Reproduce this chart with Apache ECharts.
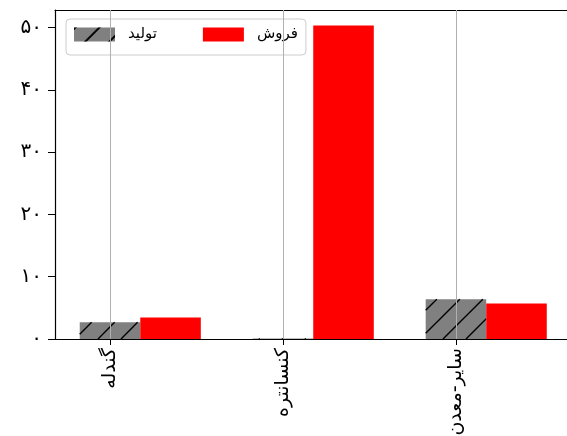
<!DOCTYPE html>
<html>
<head>
<meta charset="utf-8">
<script src="https://cdn.jsdelivr.net/npm/echarts@6/dist/echarts.min.js"></script>
<style>html,body{margin:0;padding:0;background:#fff}#c{width:567px;height:436px}</style>
</head>
<body>
<div id="c"></div>
<script>
// ---- data ----
const categories = ['گندله', 'کنسانتره', 'سایر-معدن'];
const production = [2.67, 0.1, 6.39];   // تولید
const sales = [3.47, 50.3, 5.7];        // فروش
const yTicks = [0, 10, 20, 30, 40, 50];
const seriesNames = ['تولید', 'فروش'];

const BAR_W = 0.35;
const HATCH = 23;
const faDigits = '۰۱۲۳۴۵۶۷۸۹';
const toFa = s => String(s).replace(/[0-9]/g, d => faDigits[+d]);
const FONT = "'DejaVu Sans', 'Noto Sans', sans-serif";

function makeRender(offset, color, hatched) {
  return function (params, api) {
    const x = api.value(0) + offset;
    const v = api.value(1);
    const p0 = api.coord([x - BAR_W / 2, v]);
    const p1 = api.coord([x + BAR_W / 2, 0]);
    const x0 = p0[0], y0 = p0[1], x1 = p1[0], y1 = p1[1];
    const children = [{
      type: 'rect',
      shape: { x: x0, y: y0, width: x1 - x0, height: y1 - y0 },
      style: { fill: color }
    }];
    if (hatched && y1 - y0 > 0.5) {
      const kStart = Math.ceil((x0 + y0) / HATCH) * HATCH;
      for (let k = kStart; k <= x1 + y1; k += HATCH) {
        const xa = Math.max(x0, k - y1), xb = Math.min(x1, k - y0);
        if (xb > xa) {
          children.push({
            type: 'line',
            shape: { x1: xa, y1: k - xa, x2: xb, y2: k - xb },
            style: { stroke: '#000', lineWidth: 1.4 }
          });
        }
      }
    }
    return { type: 'group', children };
  };
}

const chart = echarts.init(document.getElementById('c'), null, { renderer: 'canvas' });
const xMin = -0.318, xMax = 2.642;
chart.setOption({
  animation: false,
  backgroundColor: '#fff',
  textStyle: { fontFamily: FONT },
  grid: { left: 55, right: 0, top: 10, bottom: 97, containLabel: false, outerBoundsMode: 'none' },
  legend: {
    left: 66, top: 19,
    padding: [8, 8, 13, 8],
    itemWidth: 41, itemHeight: 14, itemGap: 46,
    backgroundColor: 'rgba(255,255,255,0.8)',
    borderColor: '#cccccc', borderWidth: 1, borderRadius: 4,
    textStyle: { fontSize: 15, color: '#000', fontFamily: FONT, padding: [0, 0, 0, 8] },
    data: [
      { name: seriesNames[0], icon: 'rect', itemStyle: { decal: { symbol: 'rect', symbolSize: 1, dashArrayX: [1, 0], dashArrayY: [1.5, 15], rotation: -Math.PI / 4, color: '#000' } } },
      { name: seriesNames[1], icon: 'rect' }
    ]
  },
  xAxis: [{
    type: 'value', min: xMin, max: xMax, position: 'bottom', z: 5,
    axisLine: { show: true, onZero: false, lineStyle: { color: '#000', width: 1.2 } },
    axisTick: { show: true, length: 6, customValues: [0, 1, 2], lineStyle: { color: '#000' } },
    axisLabel: {
      customValues: [0, 1, 2], rotate: 90, margin: 9, fontSize: 19, color: '#000', fontFamily: FONT,
      formatter: v => categories[Math.round(v)]
    },
    splitLine: { show: true, lineStyle: { color: '#b0b0b0', width: 1 } }
  }, {
    type: 'value', min: xMin, max: xMax, position: 'top',
    axisLine: { show: true, onZero: false, lineStyle: { color: '#000', width: 1.2 } },
    axisTick: { show: false }, axisLabel: { show: false }, splitLine: { show: false }
  }],
  yAxis: {
    type: 'value', min: 0, max: 52.8, position: 'left',
    axisLine: { show: true, onZero: false, lineStyle: { color: '#000', width: 1.2 } },
    axisTick: { show: true, length: 7, customValues: yTicks, lineStyle: { color: '#000' } },
    axisLabel: { customValues: yTicks, margin: 13, fontSize: 20, color: '#000', fontFamily: FONT, formatter: v => toFa(v) },
    splitLine: { show: false }
  },
  series: [
    {
      name: seriesNames[0], type: 'custom', xAxisIndex: 0,
      itemStyle: { color: '#808080' },
      renderItem: makeRender(0, '#808080', true),
      data: production.map((v, i) => [i, v])
    },
    {
      name: seriesNames[1], type: 'custom', xAxisIndex: 0,
      itemStyle: { color: '#ff0000' },
      renderItem: makeRender(BAR_W, '#ff0000', false),
      data: sales.map((v, i) => [i, v])
    }
  ]
});
</script>
</body>
</html>
